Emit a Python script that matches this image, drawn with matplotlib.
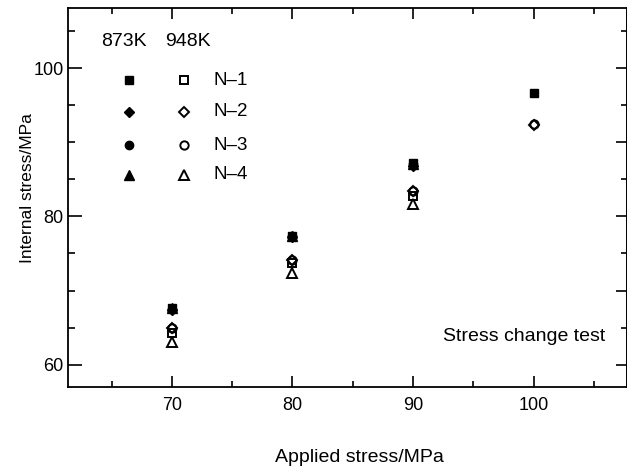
import numpy as np
import matplotlib
matplotlib.use("Agg")
import matplotlib.pyplot as plt
from matplotlib.ticker import MultipleLocator

plt.rcParams['font.family'] = ['Liberation Sans', 'DejaVu Sans']

# ---- data ----
applied = [70, 80, 90, 100]
series_names = ["N\u20131", "N\u20132", "N\u20133", "N\u20134"]
markers = ["s", "D", "o", "^"]
temps = ["873K", "948K"]

# 873K (filled)
n1_873 = [67.6, 77.4, 87.2, 96.7]
n2_873 = [67.4, 77.2, 86.8, np.nan]
n3_873 = [67.5, 77.3, 87.0, np.nan]
n4_873 = [67.6, 77.4, 87.0, np.nan]
# 948K (open)
n1_948 = [64.3, 73.7, 82.7, np.nan]
n2_948 = [65.0, 74.1, 83.4, 92.3]
n3_948 = [64.9, 74.1, 83.4, 92.5]
n4_948 = [63.1, 72.4, 81.7, np.nan]

vals_873 = [n1_873, n2_873, n3_873, n4_873]
vals_948 = [n1_948, n2_948, n3_948, n4_948]
marker_sizes = [6, 5.3, 6, 6.5]

fig = plt.figure(figsize=(6.27, 4.72), dpi=100)
ax = fig.add_axes([68/627, 1-387/472, 559/627, 379/472])

for v, m, ms in zip(vals_873, markers, marker_sizes):
    ax.plot(applied, v, linestyle='none', marker=m, ms=ms, color='black',
            mfc='black', mec='black', mew=1.0)
for v, m, ms in zip(vals_948, markers, marker_sizes):
    ax.plot(applied, v, linestyle='none', marker=m, ms=ms, color='black',
            fillstyle='none', mec='black', mew=1.4)

ax.set_xlim(61.38, 107.75)
ax.set_ylim(57.0, 108.1)

ax.xaxis.set_major_locator(MultipleLocator(10))
ax.xaxis.set_minor_locator(MultipleLocator(5))
ax.yaxis.set_major_locator(MultipleLocator(20))
ax.yaxis.set_minor_locator(MultipleLocator(5))
ax.tick_params(which='both', direction='in', top=True, right=False,
               labelsize=13, width=1.2)
ax.tick_params(axis='x', which='major', length=8, pad=7)
ax.tick_params(axis='x', which='minor', length=4.5)
ax.tick_params(axis='y', which='major', length=10, pad=3)
ax.tick_params(axis='y', which='minor', length=5)

sec = ax.secondary_yaxis('right')
sec.yaxis.set_major_locator(MultipleLocator(10))
sec.yaxis.set_minor_locator(MultipleLocator(5))
sec.tick_params(which='both', direction='in', labelright=False, width=1.2)
sec.tick_params(which='major', length=8)
sec.tick_params(which='minor', length=4)
sec.spines['right'].set_linewidth(1.3)

for s in ax.spines.values():
    s.set_linewidth(1.3)

ax.set_xlabel("Applied stress/MPa", fontsize=14)
ax.xaxis.set_label_coords(0.521, -0.163)
ax.set_ylabel("Internal stress/MPa", fontsize=12.5)
ax.yaxis.label.set_va('center')
ax.yaxis.set_label_coords(-0.073, 0.526)

ax.text(0.9606, 0.132, "Stress change test", transform=ax.transAxes,
        ha='right', va='center', fontsize=14)

# manual legend
hdr_x = [0.0996, 0.2138]
for t, x in zip(temps, hdr_x):
    ax.text(x, 0.911, t, transform=ax.transAxes, ha='center', va='center',
            fontsize=14)
row_y = [0.810, 0.7264, 0.6385, 0.5594]
for name, m, ms, y in zip(series_names, markers, marker_sizes, row_y):
    ax.plot([0.1097], [y], transform=ax.transAxes, marker=m, ms=ms,
            color='black', linestyle='none', mew=1.0)
    ax.plot([0.2081], [y], transform=ax.transAxes, marker=m, ms=ms,
            color='black', fillstyle='none', linestyle='none', mew=1.4)
    ax.text(0.260, y, name, transform=ax.transAxes, ha='left', va='center',
            fontsize=13.5)

fig.savefig("out.png", dpi=100)
